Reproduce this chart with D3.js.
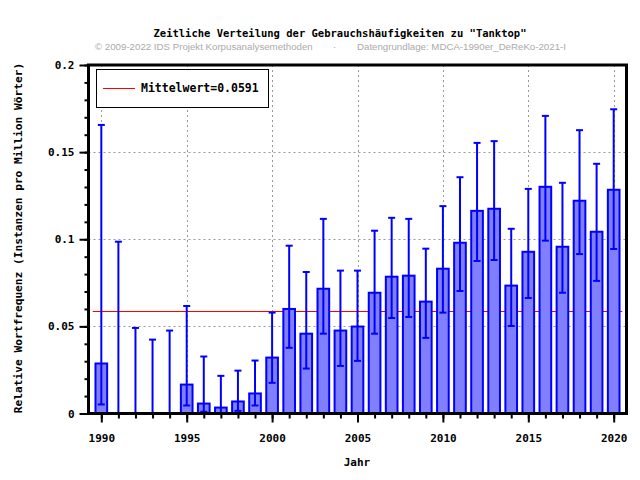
<!DOCTYPE html>
<html>
<head>
<meta charset="utf-8">
<script src="https://cdn.jsdelivr.net/npm/d3@7"></script>
<style>
  body { margin: 0; background: #fff; }
  svg text { font-family: "DejaVu Sans Mono", monospace; font-weight: bold; }
  svg text.sub { font-family: "Liberation Sans", Arial, sans-serif; font-weight: normal; font-size: 9.7px; fill: #aaaaaa; }
</style>
</head>
<body>
<div id="chart"></div>
<script>
// Jahre und Werte
const years = d3.range(1990, 2021);
const values = [0.0287, 0, 0, 0, 0, 0.0166, 0.0057, 0.0034, 0.0069, 0.0115,
  0.0321, 0.0600, 0.0458, 0.0716, 0.0476, 0.0499, 0.0693, 0.0785, 0.0791, 0.0642,
  0.0831, 0.0980, 0.1163, 0.1175, 0.0734, 0.0928, 0.1301, 0.0957, 0.1221, 0.1043, 0.1284];
const errLow = [0.0052, 0, 0, 0, 0, 0.0046, 0.0010, 0.0002, 0.0015, 0.0046,
  0.0176, 0.0377, 0.0258, 0.0458, 0.0273, 0.0302, 0.0458, 0.0548, 0.0554, 0.0434,
  0.0579, 0.0703, 0.0875, 0.0881, 0.0502, 0.0663, 0.0992, 0.0693, 0.0915, 0.0761, 0.0944];
const errHigh = [0.1656, 0.0986, 0.0491, 0.0424, 0.0476, 0.0617, 0.0327, 0.0216, 0.0246, 0.0304,
  0.0579, 0.0963, 0.0812, 0.1117, 0.0820, 0.0820, 0.1049, 0.1123, 0.1117, 0.0946,
  0.1190, 0.1356, 0.1553, 0.1563, 0.1060, 0.1289, 0.1708, 0.1324, 0.1626, 0.1433, 0.1746];
const mean = 0.0591;
const yTicks = [0, 0.05, 0.1, 0.15, 0.2];
const yTickLabels = ["0", "0.05", "0.1", "0.15", "0.2"];
const xTicks = [1990, 1995, 2000, 2005, 2010, 2015, 2020];

const width = 640, height = 480;
const plot = {left: 88.5, right: 626.5, top: 65, bottom: 413.5};

const svg = d3.select("#chart").append("svg")
  .attr("width", width).attr("height", height);

const x = d3.scaleLinear().domain([1989.25, 2020.75]).range([plot.left, plot.right]);
const y = d3.scaleLinear().domain([0, 0.2]).range([plot.bottom, plot.top]);

// Titel
svg.append("text").attr("x", 340).attr("y", 37).attr("text-anchor", "middle")
  .style("font-size", "10.5px").text("Zeitliche Verteilung der Gebrauchshäufigkeiten zu \"Tanktop\"");
svg.append("text").attr("class", "sub").attr("x", 95).attr("y", 50)
  .text("© 2009-2022 IDS Projekt Korpusanalysemethoden");
svg.append("text").attr("class", "sub").attr("x", 333).attr("y", 50).text("·");
svg.append("text").attr("class", "sub").attr("x", 357).attr("y", 50)
  .text("Datengrundlage: MDCA-1990er_DeReKo-2021-I");

// Gitter
const grid = svg.append("g").attr("stroke", "#999").attr("stroke-dasharray", "2,3").attr("stroke-width", 1);
grid.selectAll(".gx").data(xTicks).enter().append("line")
  .attr("x1", d => Math.round(x(d)) + 0.5).attr("x2", d => Math.round(x(d)) + 0.5)
  .attr("y1", plot.top).attr("y2", plot.bottom);
grid.selectAll(".gy").data(yTicks.slice(1, 4)).enter().append("line")
  .attr("x1", plot.left).attr("x2", plot.right)
  .attr("y1", d => Math.round(y(d)) + 0.5).attr("y2", d => Math.round(y(d)) + 0.5);

// Mittelwert-Linie
svg.append("line").attr("x1", x(1989.5)).attr("x2", x(2020.5))
  .attr("y1", Math.round(y(mean)) + 0.5).attr("y2", Math.round(y(mean)) + 0.5)
  .attr("stroke", "red").attr("stroke-width", 1);

// Balken
const bw = 0.8;
svg.selectAll(".bar").data(years.map((d, i) => ({year: d, v: values[i]})).filter(d => d.v > 0))
  .enter().append("rect")
  .attr("x", d => x(d.year - bw / 2) + 1)
  .attr("y", d => y(d.v))
  .attr("width", x(bw) - x(0) - 2)
  .attr("height", d => plot.bottom - y(d.v))
  .attr("fill", "#8080ff").attr("stroke", "#0000ff").attr("stroke-width", 2);

// Fehlerbalken
const eb = svg.append("g").attr("stroke", "#0000ff").attr("stroke-width", 2);
years.forEach((yr, i) => {
  const cx = x(yr);
  eb.append("line").attr("x1", cx).attr("x2", cx).attr("y1", y(errLow[i])).attr("y2", y(errHigh[i]));
  eb.append("line").attr("x1", cx - 3.5).attr("x2", cx + 3.5).attr("y1", y(errHigh[i])).attr("y2", y(errHigh[i]));
  if (errLow[i] > 0)
    eb.append("line").attr("x1", cx - 3.5).attr("x2", cx + 3.5).attr("y1", y(errLow[i])).attr("y2", y(errLow[i]));
});

// Achsen
const xAxisMinor = d3.axisBottom(x).tickValues(years).tickSize(5).tickFormat("");
svg.append("g").attr("transform", `translate(0,${plot.bottom})`).call(xAxisMinor)
  .call(g => g.select(".domain").remove())
  .call(g => g.selectAll("line").attr("stroke-width", 2).attr("stroke", "#000"));
const xAxis = d3.axisBottom(x).tickValues(xTicks).tickSize(9).tickPadding(12).tickFormat(d3.format("d"));
svg.append("g").attr("transform", `translate(0,${plot.bottom})`).call(xAxis)
  .call(g => g.select(".domain").remove())
  .call(g => g.selectAll("line").attr("stroke-width", 2).attr("stroke", "#000"))
  .call(g => g.selectAll("text").style("font-size", "11px").attr("fill", "#000"));

const yAxisMinor = d3.axisLeft(y).tickValues(d3.range(0, 0.2001, 0.01)).tickSize(4).tickFormat("");
svg.append("g").attr("transform", `translate(${plot.left},0)`).call(yAxisMinor)
  .call(g => g.select(".domain").remove())
  .call(g => g.selectAll("line").attr("stroke-width", 2).attr("stroke", "#000"));
const yAxis = d3.axisLeft(y).tickValues(yTicks).tickSize(9).tickPadding(5)
  .tickFormat((d, i) => yTickLabels[i]);
svg.append("g").attr("transform", `translate(${plot.left},0)`).call(yAxis)
  .call(g => g.select(".domain").remove())
  .call(g => g.selectAll("line").attr("stroke-width", 2).attr("stroke", "#000"))
  .call(g => g.selectAll("text").style("font-size", "11px").attr("fill", "#000"));

// Rahmen
svg.append("rect").attr("x", plot.left).attr("y", plot.top)
  .attr("width", plot.right - plot.left).attr("height", plot.bottom - plot.top)
  .attr("fill", "none").attr("stroke", "#000").attr("stroke-width", 3);

// Legende
svg.append("rect").attr("x", 96.5).attr("y", 69.5).attr("width", 172).attr("height", 38)
  .attr("fill", "#fff").attr("stroke", "#000").attr("stroke-width", 1);
svg.append("line").attr("x1", 103).attr("x2", 135).attr("y1", 88.5).attr("y2", 88.5)
  .attr("stroke", "red").attr("stroke-width", 1);
svg.append("text").attr("x", 141).attr("y", 92).style("font-size", "11.5px").text("Mittelwert=" + mean);

// Achsenbeschriftungen
svg.append("text").attr("x", 357).attr("y", 466).attr("text-anchor", "middle")
  .style("font-size", "11px").text("Jahr");
svg.append("text").attr("transform", "translate(22,238) rotate(-90)").attr("text-anchor", "middle")
  .style("font-size", "11.2px").text("Relative Wortfrequenz (Instanzen pro Million Wörter)");
</script>
</body>
</html>
